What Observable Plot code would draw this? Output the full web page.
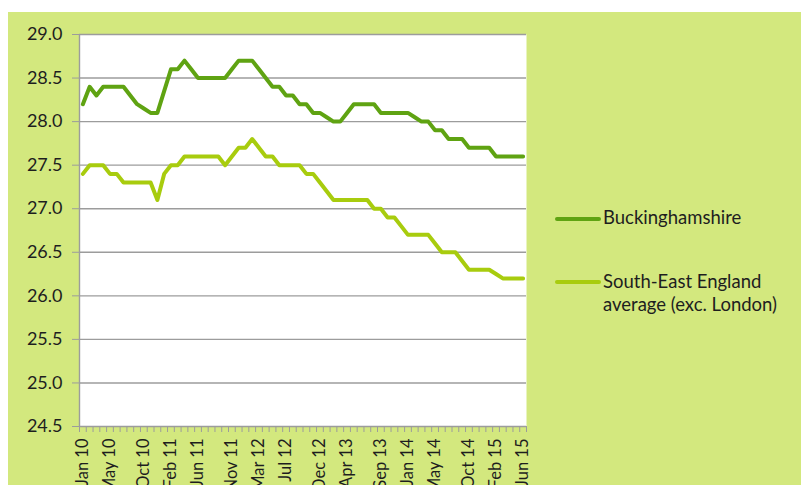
<!DOCTYPE html>
<html>
<head>
<meta charset="utf-8">
<script src="https://cdn.jsdelivr.net/npm/d3@7"></script>
<script src="https://cdn.jsdelivr.net/npm/@observablehq/plot@0.6"></script>
<style>
  html, body { margin: 0; padding: 0; background: #ffffff; }
  #wrap { position: relative; width: 801px; height: 485px; overflow: hidden; }
  #chart { position: absolute; left: 8px; top: 12px; }
  #chart svg { display: block; }
  .legend-item { position: absolute; left: 555px; font-family: Lato, sans-serif; font-size: 18.5px; line-height: 23.4px; color: #1e1e1e; white-space: pre-line; }
  .legend-item .sw { position: absolute; left: 0; width: 46px; height: 4px; border-radius: 2px; }
  .legend-item .lab { margin-left: 48px; display: block; }
</style>
</head>
<body>
<div id="wrap">
  <div id="chart"></div>
</div>
<script>
// ---- data ----
const months = [
  "Jan 10","Feb 10","Mar 10","Apr 10","May 10","Jun 10","Jul 10","Aug 10","Sep 10","Oct 10","Nov 10","Dec 10",
  "Jan 11","Feb 11","Mar 11","Apr 11","May 11","Jun 11","Jul 11","Aug 11","Sep 11","Oct 11","Nov 11","Dec 11",
  "Jan 12","Feb 12","Mar 12","Apr 12","May 12","Jun 12","Jul 12","Aug 12","Sep 12","Oct 12","Nov 12","Dec 12",
  "Jan 13","Feb 13","Mar 13","Apr 13","May 13","Jun 13","Jul 13","Aug 13","Sep 13","Oct 13","Nov 13","Dec 13",
  "Jan 14","Feb 14","Mar 14","Apr 14","May 14","Jun 14","Jul 14","Aug 14","Sep 14","Oct 14","Nov 14","Dec 14",
  "Jan 15","Feb 15","Mar 15","Apr 15","May 15","Jun 15"
];
const buckinghamshire = [
  28.2,28.4,28.3,28.4,28.4,28.4,28.4,28.3,28.2,28.15,
  28.1,28.1,28.35,28.6,28.6,28.7,28.6,28.5,28.5,28.5,
  28.5,28.5,28.6,28.7,28.7,28.7,28.6,28.5,28.4,28.4,
  28.3,28.3,28.2,28.2,28.1,28.1,28.05,28.0,28.0,28.1,
  28.2,28.2,28.2,28.2,28.1,28.1,28.1,28.1,28.1,28.05,
  28.0,28.0,27.9,27.9,27.8,27.8,27.8,27.7,27.7,27.7,
  27.7,27.6,27.6,27.6,27.6,27.6
];
const southEast = [
  27.4,27.5,27.5,27.5,27.4,27.4,27.3,27.3,27.3,27.3,
  27.3,27.1,27.4,27.5,27.5,27.6,27.6,27.6,27.6,27.6,
  27.6,27.5,27.6,27.7,27.7,27.8,27.7,27.6,27.6,27.5,
  27.5,27.5,27.5,27.4,27.4,27.3,27.2,27.1,27.1,27.1,
  27.1,27.1,27.1,27.0,27.0,26.9,26.9,26.8,26.7,26.7,
  26.7,26.7,26.6,26.5,26.5,26.5,26.4,26.3,26.3,26.3,
  26.3,26.25,26.2,26.2,26.2,26.2
];
const tickLabels = ["Jan 10","May 10","Oct 10","Feb 11","Jun 11","Nov 11","Mar 12","Jul 12","Dec 12","Apr 13","Sep 13","Jan 14","May 14","Oct 14","Feb 15","Jun 15"];
const yTicks = [24.5,25.0,25.5,26.0,26.5,27.0,27.5,28.0,28.5,29.0];
const seriesNames = ["Buckinghamshire", "South-East England\naverage (exc. London)"];
const seriesColors = ["#5fa312", "#a8cc0e"];
const seriesValues = [buckinghamshire, southEast];

// ---- build table ----
const rows = [];
seriesNames.forEach((name, s) => {
  seriesValues[s].forEach((v, i) => rows.push({i, month: months[i], series: name, value: v}));
});
const tickIdx = tickLabels.map(l => months.indexOf(l));
const boundaries = d3.range(months.length + 1).map(k => k - 0.5);

const grey = "#9c9c9c";
const chart = Plot.plot({
  width: 793,
  height: 473,
  marginLeft: 71,
  marginRight: 275,
  marginTop: 22,
  marginBottom: 59,
  style: {background: "#d3e87e", fontFamily: "Lato, sans-serif", overflow: "visible"},
  x: {domain: [-0.5, months.length - 0.5]},
  y: {domain: [24.5, 29]},
  color: {domain: seriesNames, range: seriesColors},
  marks: [
    Plot.frame({fill: "white", stroke: "none"}),
    Plot.ruleY(yTicks.slice(1), {stroke: grey, strokeWidth: 1.4}),
    Plot.ruleX([-0.5], {stroke: grey, strokeWidth: 1.4}),
    Plot.ruleY([24.5], {stroke: grey, strokeWidth: 1.4}),
    Plot.axisY({ticks: yTicks, tickFormat: d3.format(".1f"), tickSize: 7, tickPadding: 10, stroke: grey, fill: "#1e1e1e", fontSize: 18, label: null}),
    Plot.axisX({ticks: boundaries, tickSize: 6, tickFormat: () => "", stroke: grey, label: null}),
    Plot.axisX({ticks: tickIdx, tickFormat: i => months[i], tickSize: 0, tickPadding: 12, tickRotate: -90, fontSize: 16.5, fill: "#1e1e1e", label: null}),
    Plot.line(rows, {x: "i", y: "value", z: "series", stroke: "series", strokeWidth: 4, strokeLinejoin: "round", strokeLinecap: "round"})
  ]
});
document.getElementById("chart").appendChild(chart);

// ---- legend (to the right of the plot) ----
const wrap = document.getElementById("wrap");
const legendTop = 206;
const legendGap = 63.5;
seriesNames.forEach((name, s) => {
  const item = document.createElement("div");
  item.className = "legend-item";
  item.style.top = (legendTop + s * legendGap) + "px";
  const sw = document.createElement("span");
  sw.className = "sw";
  sw.style.background = seriesColors[s];
  sw.style.top = "10.5px";
  const lab = document.createElement("span");
  lab.className = "lab";
  lab.textContent = name;
  item.appendChild(sw);
  item.appendChild(lab);
  wrap.appendChild(item);
});
</script>
</body>
</html>
